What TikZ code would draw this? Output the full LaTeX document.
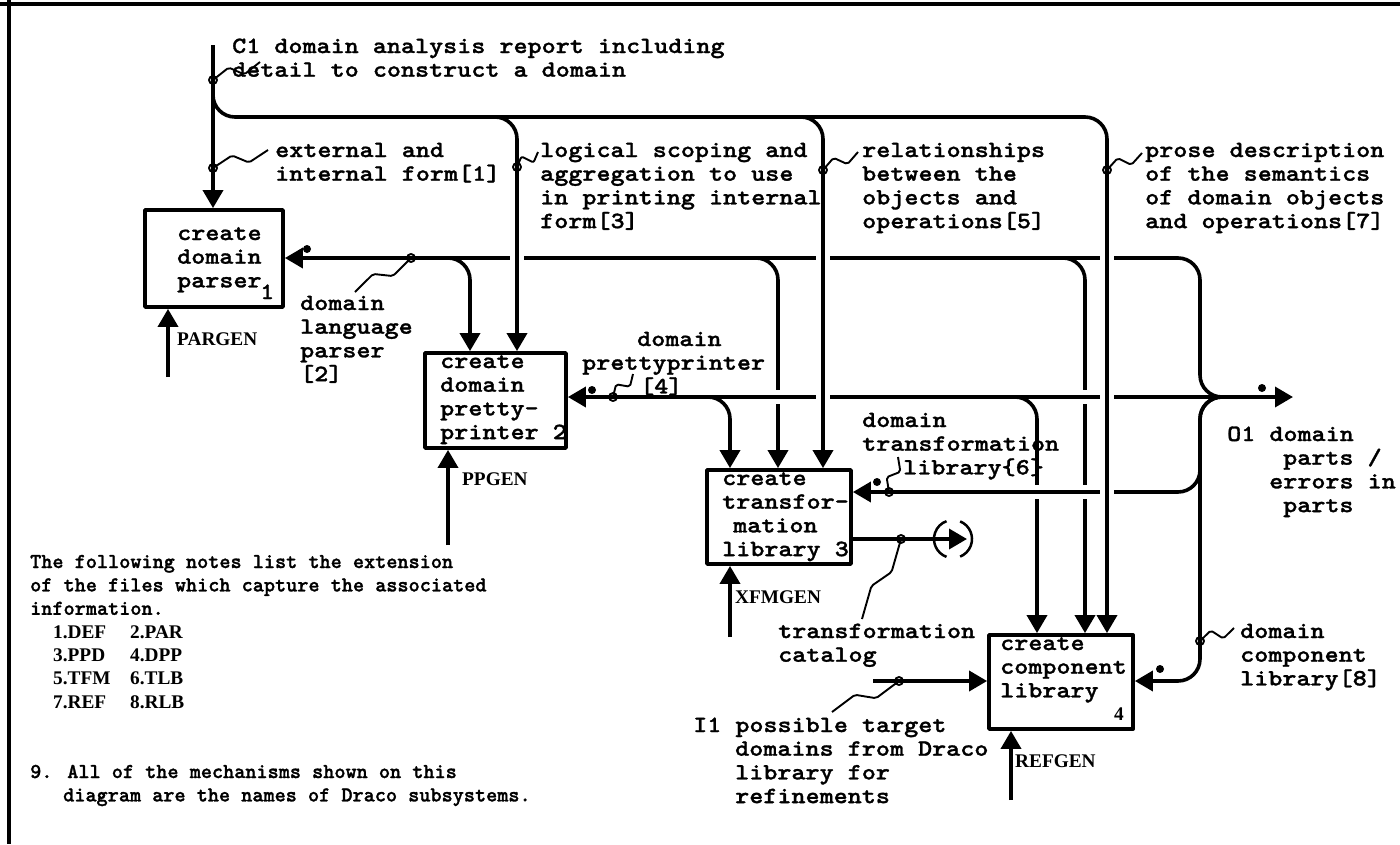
\documentclass[tikz,border=0pt]{standalone}
\usepackage{fontspec}
\usetikzlibrary{arrows.meta,calc}
\newfontfamily\tw[FakeStretch=1.15,FakeBold=1.3]{lmmonolt10-bold.otf}
\newfontfamily\twn[FakeBold=1.3]{lmmonolt10-bold.otf}
\newfontfamily\ser{Liberation Serif}
\newcommand\ml[1]{\begin{tabular}[t]{@{}l@{}}#1\end{tabular}}
\newcommand\gapH[2]{\fill[white] (#1-7,#2-3) rectangle (#1+7,#2+3); \draw[line width=3.6pt] (#1,#2-10) -- (#1,#2+10);}
\newcommand\gapV[2]{\fill[white] (#1-3,#2-7) rectangle (#1+3,#2+7); \draw[line width=3.6pt] (#1-10,#2) -- (#1+10,#2);}
\newcommand\squig[2]{\draw[squigline] (#1) circle[radius=4] (#1) -- ($(#1)!0.38!(#2)!6pt!90:(#2)$) -- ($(#1)!0.62!(#2)!6pt!-90:(#2)$) -- (#2);}
\begin{document}
\begin{tikzpicture}[x=1pt,y=-1pt,line join=round,
  flow/.style={line width=3.6pt,rounded corners=22pt},
  arr/.style={-{Triangle[length=18pt,width=20pt]}},
  box/.style={draw,line width=3.8pt,inner sep=0pt},
  lab/.style={font=\tw\fontsize{23.3}{23.7}\selectfont,anchor=base west,inner sep=0pt},
  note/.style={font=\twn\fontsize{21.2}{23.4}\selectfont,anchor=base west,inner sep=0pt},
  mech/.style={font=\ser\bfseries\fontsize{19.3}{23.4}\selectfont,anchor=base west,inner sep=0pt},
  dot/.style={circle,fill,inner sep=0pt,minimum size=8pt},
  squigline/.style={line width=1.9pt,rounded corners=2pt}]
\useasboundingbox (0,0) rectangle (1400,844);
\fill[white] (0,0) rectangle (1400,844);
% frame
\draw[line width=4pt] (0,4) -- (1400,4);
\draw[line width=4pt] (9,0) -- (9,844);

% boxes
\node[box,minimum width=138pt,minimum height=97pt] (b1) at (214,258.5) {};
\node[box,minimum width=141pt,minimum height=95pt] (b2) at (495.5,400.5) {};
\node[box,minimum width=144pt,minimum height=94pt] (b3) at (779,517) {};
\node[box,minimum width=144pt,minimum height=94pt] (b4) at (1061,682) {};

% box texts
\node[lab] (t1) at (177,240) {\ml{create\\domain\\parser}};
\node[lab] (t1n) at (260,299) {1};
\node[lab] (t2) at (440,368) {\ml{create\\domain\\pretty-\\printer 2}};
\node[lab] (t3) at (722,485) {\ml{create\\transfor-\\\hspace*{11pt}mation\\library 3}};
\node[lab] (t4) at (1000,650) {\ml{create\\component\\library}};
\node[mech] (t4n) at (1114,720) {4};

% coordinates
\coordinate (c1s) at (213,45);
\coordinate (k1) at (213,117);
\coordinate (k3) at (517,117);
\coordinate (k5) at (823,117);
\coordinate (k7) at (1107,117);
\coordinate (r1) at (0,258);
\coordinate (r2) at (0,397);
\coordinate (r3) at (0,492);
\coordinate (r4) at (0,681);
\coordinate (jx) at (1200,397);
\coordinate (jr) at (1240,397);
\coordinate (o1) at (1293,397);
\coordinate (m2) at (470,258);
\coordinate (m3) at (778,258);
\coordinate (m4) at (1085,258);
\coordinate (n3) at (730,397);
\coordinate (n4) at (1037,397);
\coordinate (mech1) at (168,377);
\coordinate (mech2) at (448,545);
\coordinate (mech3) at (730,637);
\coordinate (mech4) at (1011,800);
\coordinate (tc) at (967,539);
\coordinate (i1) at (873,681);

% control C1
\draw[flow,arr] (c1s) -- (c1s|-b1.north);
\draw[flow,arr] (c1s) -- (k1) -- (k7) -- (k7|-b4.north);
\draw[flow,arr] ($(k3)+(-30,0)$) -- (k3) -- (k3|-b2.north);
\draw[flow,arr] ($(k5)+(-30,0)$) -- (k5) -- (k5|-b3.north);

% outputs / feedback lines
\draw[flow,arr] (jr) -- (jx) -- (jx|-r1) -- (b1.east|-r1);
\draw[flow,arr] (jr) -- (b2.east|-r2);
\draw[flow,arr] (jr) -- (jx) -- (jx|-r3) -- (b3.east|-r3);
\draw[flow,arr] (jr) -- (jx) -- (jx|-r4) -- (b4.east|-r4);
\draw[flow,arr] (jx) -- (o1);

% branches down
\draw[flow,arr] ($(m2)+(-30,0)$) -- (m2) -- (m2|-b2.north);
\draw[flow,arr] ($(m3)+(-30,0)$) -- (m3) -- (m3|-b3.north);
\draw[flow,arr] ($(m4)+(-30,0)$) -- (m4) -- (m4|-b4.north);
\draw[flow,arr] ($(n3)+(-30,0)$) -- (n3) -- (n3|-b3.north);
\draw[flow,arr] ($(n4)+(-30,0)$) -- (n4) -- (n4|-b4.north);

% crossings
\gapH{517}{258}
\gapH{823}{258}
\gapH{1107}{258}
\gapH{823}{397}
\gapH{1107}{397}
\gapH{1107}{492}
\gapV{778}{397}
\gapV{1085}{397}
\gapV{1037}{492}
\gapV{1085}{492}

% mechanisms
\draw[flow,arr] (mech1) -- (mech1|-b1.south);
\draw[flow,arr] (mech2) -- (mech2|-b2.south);
\draw[flow,arr] (mech3) -- (mech3|-b3.south);
\draw[flow,arr] (mech4) -- (mech4|-b4.south);
\node[mech] (pargen) at (177,345) {PARGEN};
\node[mech] (ppgen) at (462,485) {PPGEN};
\node[mech] (xfmgen) at (735,603) {XFMGEN};
\node[mech] (refgen) at (1015,767) {REFGEN};

% transformation catalog output with tunnel
\draw[flow,arr] (b3.east|-tc) -- (tc);
\draw[line width=2.5pt] (953,539) ++(110:19) arc[start angle=110,end angle=250,radius=19];
\draw[line width=2.5pt] (953,539) ++(-68:19) arc[start angle=-68,end angle=68,radius=19];

% input I1
\draw[flow,arr] (i1) -- (i1-|b4.west);

% dots
\node[dot] (d1) at (307,249) {};
\node[dot] (d2) at (592,390) {};
\node[dot] (d3) at (877,482) {};
\node[dot] (d4) at (1160,669) {};
\node[dot] (d5) at (1262,388) {};

% squiggles
\coordinate (s1a) at (213,80);   \coordinate (s1b) at (260,62);
\coordinate (s2a) at (213,168);  \coordinate (s2b) at (268,150);
\coordinate (s3a) at (517,167);  \coordinate (s3b) at (538,152);
\coordinate (s4a) at (823,170);  \coordinate (s4b) at (858,152);
\coordinate (s5a) at (1107,170); \coordinate (s5b) at (1142,153);
\coordinate (s6a) at (411,258);  \coordinate (s6b) at (355,292);
\coordinate (s7a) at (613,397);  \coordinate (s7b) at (633,374);
\coordinate (s8a) at (889,492);  \coordinate (s8b) at (898,457);
\coordinate (s9a) at (901,539);  \coordinate (s9b) at (862,619);
\coordinate (s10a) at (899,681); \coordinate (s10b) at (832,712);
\coordinate (s11a) at (1200,641); \coordinate (s11b) at (1234,628);
\squig{s1a}{s1b}
\squig{s2a}{s2b}
\squig{s3a}{s3b}
\squig{s4a}{s4b}
\squig{s5a}{s5b}
\squig{s6a}{s6b}
\squig{s7a}{s7b}
\squig{s8a}{s8b}
\squig{s9a}{s9b}
\squig{s10a}{s10b}
\squig{s11a}{s11b}

% labels
\node[lab] (lc1) at (232,53) {\ml{C1 domain analysis report including\\detail to construct a domain}};
\node[lab] (l1) at (275,157) {\ml{external and\\internal form[1]}};
\node[lab] (l3) at (540,157) {\ml{logical scoping and\\aggregation to use\\in printing internal\\form[3]}};
\node[lab] (l5) at (862,157) {\ml{relationships\\between the\\objects and\\operations[5]}};
\node[lab] (l7) at (1145,157) {\ml{prose description\\of the semantics\\of domain objects\\and operations[7]}};
\node[lab] (l2) at (300,310) {\ml{domain\\language\\parser\\{[2]}}};
\node[lab] (l4) at (582,346) {\ml{\hspace*{55pt}domain\\prettyprinter\\\hspace*{58pt}[4]}};
\node[lab] (l6) at (862,427) {\ml{domain\\transformation\\\hspace*{41pt}library\{6\}}};
\node[lab] (lcat) at (778,638) {\ml{transformation\\catalog}};
\node[lab] (l8) at (1240,638) {\ml{domain\\component\\library[8]}};
\node[lab] (li1) at (693,732) {\ml{I1 possible target\\\hspace*{42pt}domains from Draco\\\hspace*{42pt}library for\\\hspace*{42pt}refinements}};
\node[lab] (lo1) at (1227,441) {\ml{O1 domain\\\hspace*{56pt}parts /\\\hspace*{42pt}errors in\\\hspace*{56pt}parts}};

% notes
\node[note] (n1) at (30,568) {\ml{The following notes list the extension\\of the files which capture the associated\\information.}};
\node[mech] (n2) at (53,638) {\ml{\makebox[77pt][l]{1.DEF}2.PAR\\\makebox[77pt][l]{3.PPD}4.DPP\\\makebox[77pt][l]{5.TFM}6.TLB\\\makebox[77pt][l]{7.REF}8.RLB}};
\node[note] (n3) at (30,778) {\ml{9. All of the mechanisms shown on this\\\hspace*{33pt}diagram are the names of Draco subsystems.}};
\end{tikzpicture}
\end{document}
